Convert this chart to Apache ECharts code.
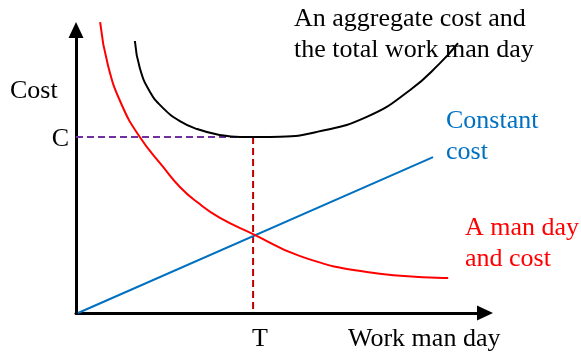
<!DOCTYPE html>
<html>
<head>
<meta charset="utf-8">
<script src="https://cdn.jsdelivr.net/npm/echarts@6/dist/echarts.min.js"></script>
<style>html,body{margin:0;padding:0;background:#fff;}</style>
</head>
<body>
<div id="main" style="width:581px;height:356px;"></div>
<script>
// a man day and cost (red)
const manDayCost = [
  [5.9, 102.8], [7.8, 87.6], [11.2, 73.5], [15.6, 62.2], [21.3, 51.6], [25.4, 44.5],
  [29.6, 39.2], [35.2, 33.6], [43.3, 27.9], [54.8, 20.1], [71.1, 14.5], [91.0, 12.4]
];
// constant cost (blue)
const constantCost = [[0.5, 0], [87.3, 55.1]];
// aggregate cost (black)
const aggregateCost = [
  [14.4, 96.1], [15.6, 86.6], [18.1, 78.1], [21.3, 72.4], [25.4, 67.8], [29.6, 65.0],
  [35.2, 62.9], [40.1, 62.2], [45.0, 62.2], [49.9, 62.3], [58.9, 64.0], [71.1, 69.3],
  [81.7, 78.8], [89.0, 88.3], [93.4, 95.4]
];
const C = 62.2;
const T = 43.3;
const cGuide = [[0, C], [T, C]];
const tGuide = [[T, C], [T, 0]];

const serif = "'Liberation Serif', 'Times New Roman', serif";

const myChart = echarts.init(document.getElementById('main'));

const axisCommon = {
  type: 'value',
  min: 0,
  max: 100,
  axisLine: {
    show: true,
    symbol: ['none', 'triangle'],
    symbolSize: [15, 16],
    lineStyle: { color: '#000', width: 3 },
  },
  axisTick: { show: false },
  axisLabel: { show: false },
  splitLine: { show: false },
};

const option = {
  backgroundColor: '#fff',
  animation: false,
  grid: { left: 76, top: 30, width: 409, height: 283 },
  xAxis: axisCommon,
  yAxis: axisCommon,
  graphic: [
    { type: 'text', left: 10, top: 78, style: { text: 'Cost', font: '26px ' + serif, fill: '#000' } },
    { type: 'text', x: 69, y: 139, style: { text: 'C', font: '26px ' + serif, fill: '#000', align: 'right', verticalAlign: 'middle' } },
    { type: 'text', x: 260, y: 339, style: { text: 'T', font: '26px ' + serif, fill: '#000', align: 'center', verticalAlign: 'middle' } },
    { type: 'text', x: 348, y: 339, style: { text: 'Work man day', font: '26px ' + serif, fill: '#000', verticalAlign: 'middle' } },
    { type: 'text', x: 294, y: 4, style: { text: 'An aggregate cost and\nthe total work man day', font: '26px ' + serif, lineHeight: 31, fill: '#000' } },
    { type: 'text', x: 446, y: 106, style: { text: 'Constant\ncost', font: '26px ' + serif, lineHeight: 31, fill: '#0070C0' } },
    { type: 'text', x: 465, y: 213, style: { text: 'A man day\nand cost', font: '26px ' + serif, lineHeight: 31, fill: '#FF0000' } },
  ],
  series: [
    {
      name: 'C',
      type: 'line',
      data: cGuide,
      symbol: 'none',
      lineStyle: { color: '#7030A0', width: 2, type: [7, 4] },
    },
    {
      name: 'T',
      type: 'line',
      data: tGuide,
      symbol: 'none',
      lineStyle: { color: '#C00000', width: 2, type: [7, 4] },
    },
    {
      name: 'Constant cost',
      type: 'line',
      data: constantCost,
      symbol: 'none',
      lineStyle: { color: '#0070C0', width: 2 },
    },
    {
      name: 'A man day and cost',
      type: 'line',
      data: manDayCost,
      symbol: 'none',
      smooth: 0.5,
      clip: false,
      lineStyle: { color: '#FF0000', width: 2 },
    },
    {
      name: 'Aggregate cost',
      type: 'line',
      data: aggregateCost,
      symbol: 'none',
      smooth: 0.5,
      clip: false,
      lineStyle: { color: '#000', width: 2 },
    },
  ],
};
myChart.setOption(option);
</script>
</body>
</html>
